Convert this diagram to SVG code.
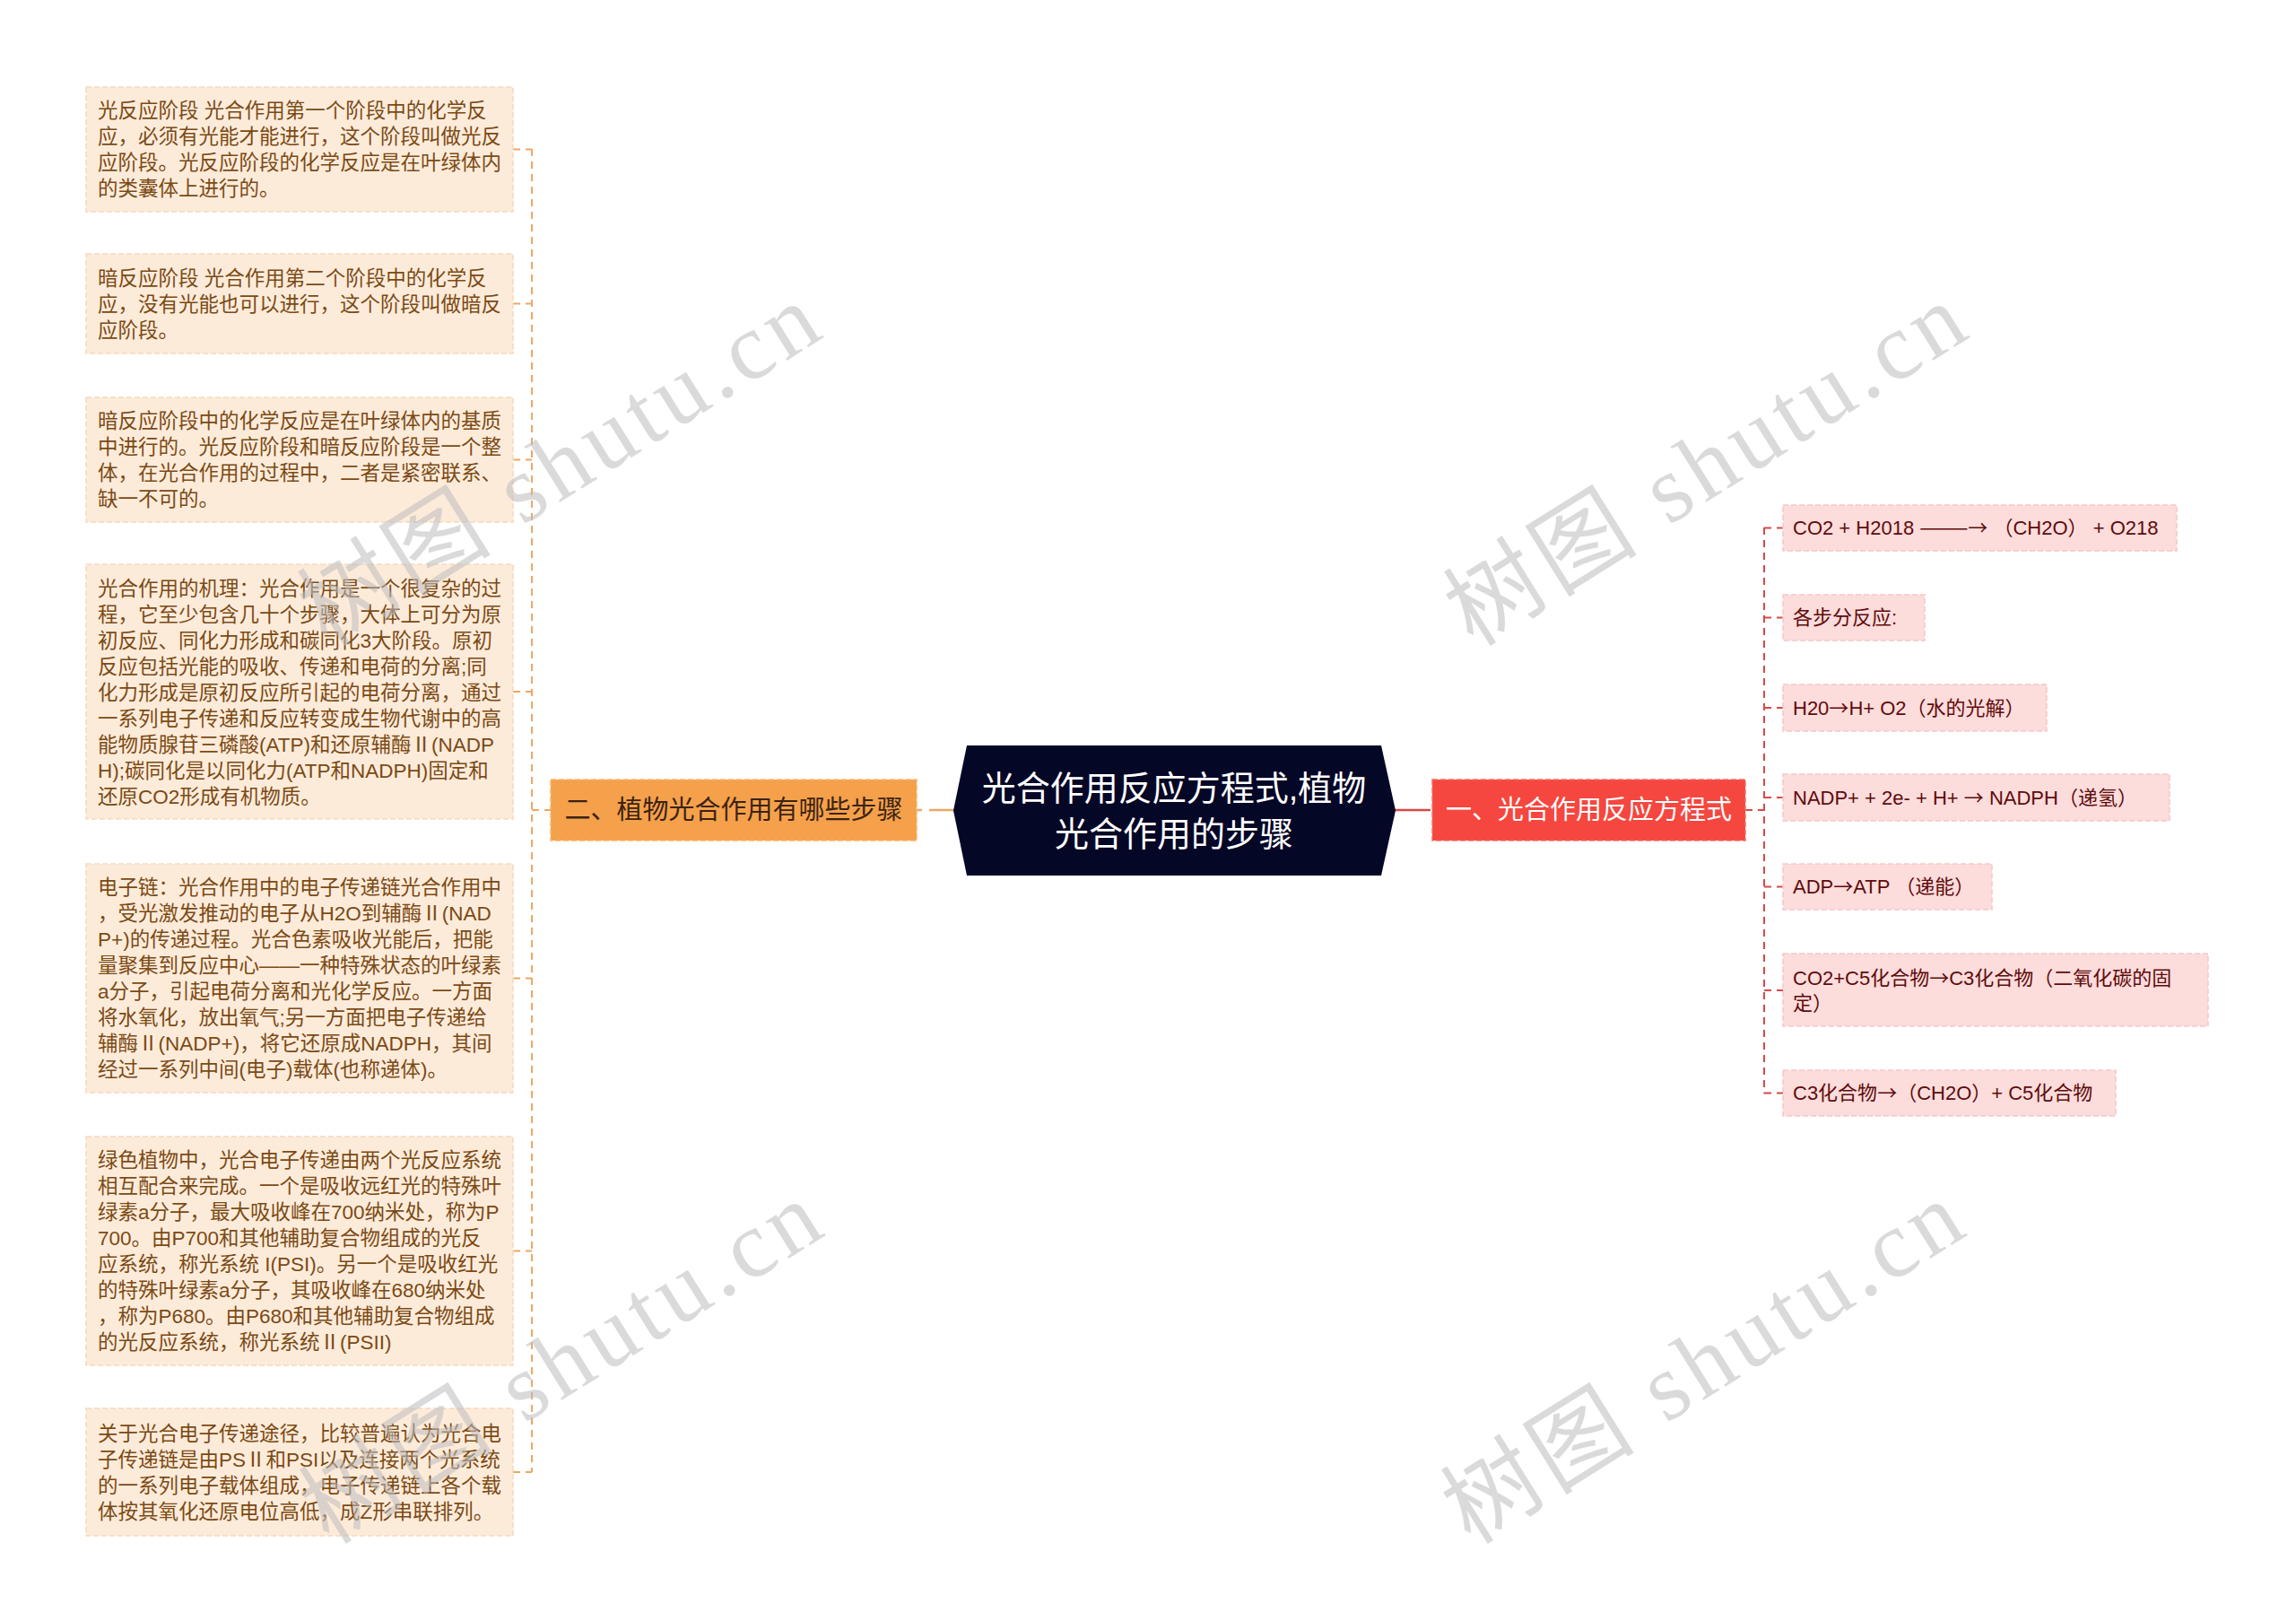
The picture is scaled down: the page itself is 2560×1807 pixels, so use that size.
<svg xmlns="http://www.w3.org/2000/svg" width="2560" height="1807" viewBox="0 0 2560 1807">
<style>
.lbox{fill:#fdebda;stroke:#f6d9bf;stroke-width:1.5;stroke-dasharray:6,3}
.rbox{fill:#fddcdc;stroke:#f6c6c6;stroke-width:1.5;stroke-dasharray:6,3}
.lt{font-family:"Liberation Sans","Noto Sans CJK SC",sans-serif;font-size:22.5px;fill:#7b4a14}
.rt{font-family:"Liberation Sans","Noto Sans CJK SC",sans-serif;font-size:22px;fill:#5e0b0b}
.ar{font-family:"Noto Sans CJK SC",sans-serif}
.mt{font-family:"Liberation Sans","Noto Sans CJK SC",sans-serif;font-size:29px;text-anchor:middle}
.ct{font-family:"Liberation Sans","Noto Sans CJK SC",sans-serif;font-size:38px;fill:#ffffff;text-anchor:middle}
.lc{stroke:#eaa866;stroke-width:2;fill:none;stroke-dasharray:8,6}
.rc{stroke:#d84848;stroke-width:2;fill:none;stroke-dasharray:8,6}
.wm{font-size:106px;fill:#bdbdbd;opacity:0.55;text-anchor:middle;letter-spacing:6px}
.wm .c{font-family:"Noto Sans CJK SC",sans-serif}
.wm .e{font-family:"Liberation Serif",serif}
</style>

<g id="connectors">
  <line class="lc" x1="593" y1="166" x2="593" y2="1641"/>
  <line class="lc" x1="572" y1="166.5" x2="593" y2="166.5"/>
  <line class="lc" x1="572" y1="338.5" x2="593" y2="338.5"/>
  <line class="lc" x1="572" y1="512.5" x2="593" y2="512.5"/>
  <line class="lc" x1="572" y1="771" x2="593" y2="771"/>
  <line class="lc" x1="572" y1="1090.5" x2="593" y2="1090.5"/>
  <line class="lc" x1="572" y1="1394.5" x2="593" y2="1394.5"/>
  <line class="lc" x1="572" y1="1641" x2="593" y2="1641"/>
  <line class="lc" x1="593" y1="903" x2="614" y2="903"/>
  <line stroke="#eaa866" stroke-width="2.5" stroke-dasharray="6,8,40" x1="1022" y1="903" x2="1064" y2="903"/>
  <line stroke="#d84848" stroke-width="2.5" stroke-dasharray="40,8,6" x1="1555" y1="903" x2="1597" y2="903"/>
  <line class="rc" x1="1946" y1="903" x2="1967" y2="903"/>
  <line class="rc" x1="1967" y1="588" x2="1967" y2="1219"/>
  <line class="rc" x1="1967" y1="588.5" x2="1988" y2="588.5"/>
  <line class="rc" x1="1967" y1="688.5" x2="1988" y2="688.5"/>
  <line class="rc" x1="1967" y1="789" x2="1988" y2="789"/>
  <line class="rc" x1="1967" y1="889" x2="1988" y2="889"/>
  <line class="rc" x1="1967" y1="988.5" x2="1988" y2="988.5"/>
  <line class="rc" x1="1967" y1="1104" x2="1988" y2="1104"/>
  <line class="rc" x1="1967" y1="1218.5" x2="1988" y2="1218.5"/>
</g>

<g id="center">
  <polygon points="1078,831 1540,831 1556,903.5 1540,976 1078,976 1063,903.5" fill="#050726"/>
  <text class="ct"><tspan x="1309" y="892">光合作用反应方程式,植物</tspan><tspan x="1309" y="943">光合作用的步骤</tspan></text>
</g>

<g id="branch-left">
  <rect x="614" y="869" width="408" height="68" fill="#f5a04a" stroke="#f7b46e" stroke-width="1.5" stroke-dasharray="6,3"/>
  <text class="mt" x="818" y="913" fill="#3b2314">二、植物光合作用有哪些步骤</text>
</g>

<g id="branch-right">
  <rect x="1597" y="869" width="349" height="68" fill="#f5473f" stroke="#f26d66" stroke-width="1.5" stroke-dasharray="6,3"/>
  <text class="mt" x="1771.5" y="913" fill="#ffffff">一、光合作用反应方程式</text>
</g>

<g id="left-1">
  <rect class="lbox" x="96" y="97" width="476" height="139"/>
  <text class="lt"><tspan x="109" y="131">光反应阶段 光合作用第一个阶段中的化学反</tspan><tspan x="109" y="160">应，必须有光能才能进行，这个阶段叫做光反</tspan><tspan x="109" y="189">应阶段。光反应阶段的化学反应是在叶绿体内</tspan><tspan x="109" y="218">的类囊体上进行的。</tspan></text>
</g>
<g id="left-2">
  <rect class="lbox" x="96" y="283" width="476" height="111"/>
  <text class="lt"><tspan x="109" y="318">暗反应阶段 光合作用第二个阶段中的化学反</tspan><tspan x="109" y="347">应，没有光能也可以进行，这个阶段叫做暗反</tspan><tspan x="109" y="376">应阶段。</tspan></text>
</g>
<g id="left-3">
  <rect class="lbox" x="96" y="443" width="476" height="139"/>
  <text class="lt"><tspan x="109" y="477">暗反应阶段中的化学反应是在叶绿体内的基质</tspan><tspan x="109" y="506">中进行的。光反应阶段和暗反应阶段是一个整</tspan><tspan x="109" y="535">体，在光合作用的过程中，二者是紧密联系、</tspan><tspan x="109" y="564">缺一不可的。</tspan></text>
</g>
<g id="left-4">
  <rect class="lbox" x="96" y="629" width="476" height="284"/>
  <text class="lt"><tspan x="109" y="664">光合作用的机理：光合作用是一个很复杂的过</tspan><tspan x="109" y="693">程，它至少包含几十个步骤，大体上可分为原</tspan><tspan x="109" y="722">初反应、同化力形成和碳同化3大阶段。原初</tspan><tspan x="109" y="751">反应包括光能的吸收、传递和电荷的分离;同</tspan><tspan x="109" y="780">化力形成是原初反应所引起的电荷分离，通过</tspan><tspan x="109" y="809">一系列电子传递和反应转变成生物代谢中的高</tspan><tspan x="109" y="838">能物质腺苷三磷酸(ATP)和还原辅酶Ⅱ(NADP</tspan><tspan x="109" y="867">H);碳同化是以同化力(ATP和NADPH)固定和</tspan><tspan x="109" y="896">还原CO2形成有机物质。</tspan></text>
</g>
<g id="left-5">
  <rect class="lbox" x="96" y="963" width="476" height="255"/>
  <text class="lt"><tspan x="109" y="997">电子链：光合作用中的电子传递链光合作用中</tspan><tspan x="109" y="1026">，受光激发推动的电子从H2O到辅酶Ⅱ(NAD</tspan><tspan x="109" y="1055">P+)的传递过程。光合色素吸收光能后，把能</tspan><tspan x="109" y="1084">量聚集到反应中心——一种特殊状态的叶绿素</tspan><tspan x="109" y="1113">a分子，引起电荷分离和光化学反应。一方面</tspan><tspan x="109" y="1142">将水氧化，放出氧气;另一方面把电子传递给</tspan><tspan x="109" y="1171">辅酶Ⅱ(NADP+)，将它还原成NADPH，其间</tspan><tspan x="109" y="1200">经过一系列中间(电子)载体(也称递体)。</tspan></text>
</g>
<g id="left-6">
  <rect class="lbox" x="96" y="1267" width="476" height="255"/>
  <text class="lt"><tspan x="109" y="1301">绿色植物中，光合电子传递由两个光反应系统</tspan><tspan x="109" y="1330">相互配合来完成。一个是吸收远红光的特殊叶</tspan><tspan x="109" y="1359">绿素a分子，最大吸收峰在700纳米处，称为P</tspan><tspan x="109" y="1388">700。由P700和其他辅助复合物组成的光反</tspan><tspan x="109" y="1417">应系统，称光系统 I(PSI)。另一个是吸收红光</tspan><tspan x="109" y="1446">的特殊叶绿素a分子，其吸收峰在680纳米处</tspan><tspan x="109" y="1475">，称为P680。由P680和其他辅助复合物组成</tspan><tspan x="109" y="1504">的光反应系统，称光系统Ⅱ(PSII)</tspan></text>
</g>
<g id="left-7">
  <rect class="lbox" x="96" y="1570" width="476" height="142"/>
  <text class="lt"><tspan x="109" y="1606">关于光合电子传递途径，比较普遍认为光合电</tspan><tspan x="109" y="1635">子传递链是由PSⅡ和PSI以及连接两个光系统</tspan><tspan x="109" y="1664">的一系列电子载体组成，电子传递链上各个载</tspan><tspan x="109" y="1693">体按其氧化还原电位高低，成Z形串联排列。</tspan></text>
</g>

<g id="right-1">
  <rect class="rbox" x="1988" y="563" width="439" height="51"/>
  <text class="rt" x="1999" y="596">CO2 + H2018 <tspan class="ar">———→</tspan> （CH2O） + O218</text>
</g>
<g id="right-2">
  <rect class="rbox" x="1988" y="663" width="158" height="51"/>
  <text class="rt" x="1999" y="696">各步分反应:</text>
</g>
<g id="right-3">
  <rect class="rbox" x="1988" y="763" width="294" height="52"/>
  <text class="rt" x="1999" y="797">H20<tspan class="ar">→</tspan>H+ O2（水的光解）</text>
</g>
<g id="right-4">
  <rect class="rbox" x="1988" y="863" width="431" height="52"/>
  <text class="rt" x="1999" y="897">NADP+ + 2e- + H+ <tspan class="ar">→</tspan> NADPH（递氢）</text>
</g>
<g id="right-5">
  <rect class="rbox" x="1988" y="963" width="233" height="51"/>
  <text class="rt" x="1999" y="996">ADP<tspan class="ar">→</tspan>ATP （递能）</text>
</g>
<g id="right-6">
  <rect class="rbox" x="1988" y="1063" width="474" height="81"/>
  <text class="rt"><tspan x="1999" y="1098">CO2+C5化合物<tspan class="ar">→</tspan>C3化合物（二氧化碳的固</tspan><tspan x="1999" y="1126">定）</tspan></text>
</g>
<g id="right-7">
  <rect class="rbox" x="1988" y="1193" width="371" height="51"/>
  <text class="rt" x="1999" y="1226">C3化合物<tspan class="ar">→</tspan>（CH2O）+ C5化合物</text>
</g>

<g id="watermarks">
  <text class="wm" transform="translate(645,547) rotate(-32)"><tspan class="c">树图</tspan><tspan class="e"> shutu.cn</tspan></text>
  <text class="wm" transform="translate(1923,547) rotate(-32)"><tspan class="c">树图</tspan><tspan class="e"> shutu.cn</tspan></text>
  <text class="wm" transform="translate(647,1548) rotate(-32)"><tspan class="c">树图</tspan><tspan class="e"> shutu.cn</tspan></text>
  <text class="wm" transform="translate(1920,1548) rotate(-32)"><tspan class="c">树图</tspan><tspan class="e"> shutu.cn</tspan></text>
</g>
</svg>
